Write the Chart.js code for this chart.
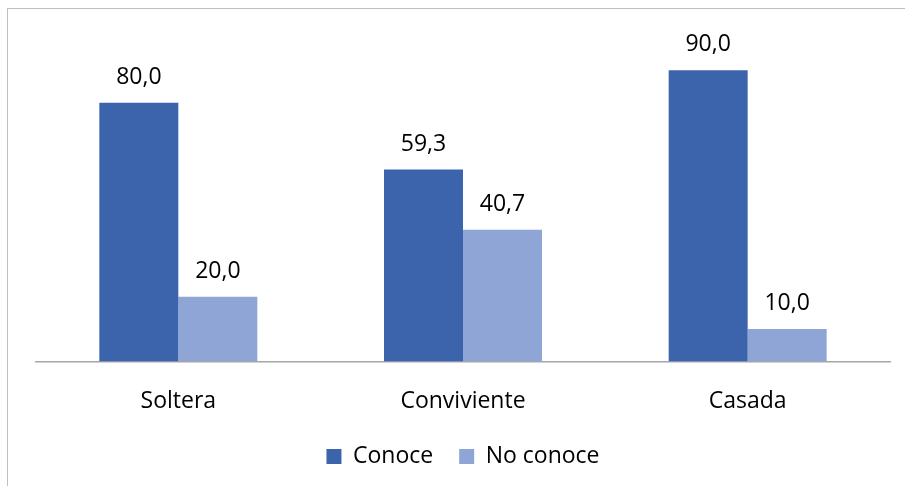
<!DOCTYPE html>
<html>
<head>
<meta charset="utf-8">
<script src="https://cdn.jsdelivr.net/npm/chart.js@4/dist/chart.umd.min.js"></script>
<style>
  html, body { margin: 0; padding: 0; background: #fff; }
  #wrap { position: relative; width: 905px; height: 486px; overflow: hidden; }
  #frame {
    position: absolute; left: 7px; top: 8px; width: 1000px; height: 600px;
    border-left: 1px solid #bfbfbf; border-top: 1px solid #bfbfbf;
  }
  #chart { position: absolute; left: 0; top: 0; }
</style>
</head>
<body>
<div id="wrap">
  <div id="frame"></div>
  <canvas id="chart" width="905" height="486"></canvas>
</div>
<script>
'use strict';

const categories = ['Soltera', 'Conviviente', 'Casada'];
const conoce = [80.0, 59.3, 90.0];
const noConoce = [20.0, 40.7, 10.0];
const seriesNames = ['Conoce', 'No conoce'];

const FONT = '"Open Sans", "Noto Sans", sans-serif';

function fmt(v) {
  return v.toFixed(1).replace('.', ',');
}

// value labels above each bar
const barValues = {
  id: 'barValues',
  afterDatasetsDraw(chart) {
    const ctx = chart.ctx;
    ctx.save();
    ctx.font = '23px ' + FONT;
    ctx.fillStyle = '#000';
    ctx.textAlign = 'center';
    ctx.textBaseline = 'alphabetic';
    chart.data.datasets.forEach((ds, i) => {
      const meta = chart.getDatasetMeta(i);
      meta.data.forEach((bar, j) => {
        ctx.fillText(fmt(ds.data[j]), bar.x, bar.y - 19);
      });
    });
    ctx.restore();
  }
};

new Chart(document.getElementById('chart'), {
  type: 'bar',
  data: {
    labels: categories,
    datasets: [
      { label: seriesNames[0], data: conoce, backgroundColor: '#3c64ad' },
      { label: seriesNames[1], data: noConoce, backgroundColor: '#8fa5d5' },
    ],
  },
  options: {
    responsive: false,
    animation: false,
    layout: { padding: { left: 36, right: 15, top: 38, bottom: 8 } },
    categoryPercentage: 0.555,
    barPercentage: 1.0,
    plugins: {
      legend: {
        position: 'bottom',
        labels: {
          boxWidth: 15,
          boxHeight: 15,
          padding: 26,
          color: '#000',
          font: { family: FONT, size: 23 },
        },
      },
      tooltip: { enabled: false },
    },
    scales: {
      x: {
        grid: { display: false, drawTicks: false },
        border: { display: true, color: '#a6a6a6', width: 1.5 },
        ticks: { color: '#000', padding: 26, font: { family: FONT, size: 23 } },
        // pull the legend closer to the category labels
        afterFit(scale) { scale.height -= 22; },
      },
      y: { display: false, min: 0, max: 100 },
    },
  },
  plugins: [barValues],
});
</script>
</body>
</html>
